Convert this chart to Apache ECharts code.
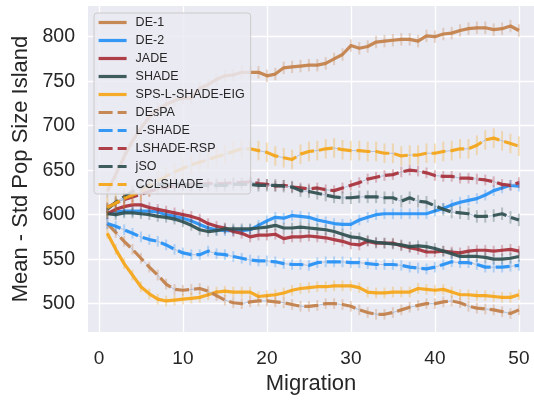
<!DOCTYPE html>
<html>
<head>
<meta charset="utf-8">
<script src="https://cdn.jsdelivr.net/npm/echarts@6/dist/echarts.min.js"></script>
<style>
  html, body { margin: 0; padding: 0; background: #ffffff; }
  #chart { width: 534px; height: 400px; }
</style>
</head>
<body>
<div id="chart"></div>
<script>
// Migration steps on the x axis
const migration = [1,2,3,4,5,6,7,8,9,10,11,12,13,14,15,16,17,18,19,20,21,22,23,24,25,
  26,27,28,29,30,31,32,33,34,35,36,37,38,39,40,41,42,43,44,45,46,47,48,49,50];

// Mean - std of the island population size for each algorithm
const de1 = [626,645,665,683,697,710,718,724,728,731,731,742,746,752,756,757,760,760,760,756,
  758,765,766,767,768,768,770,775,780,790,787,789,794,795,796,797,797,795,801,800,
  803,804,807,809,810,810,808,809,812,807];
const de2 = [601,603,604,604,604,604,603,600,598,596,593,589,585,583,582,582,582,583,588,593,
  597,596,599,598,597,594,592,590,589,589,594,597,600,601,601,601,601,601,601,604,
  607,611,614,616,618,622,627,630,633,632];
const jade = [601,606,609,611,611,608,606,604,602,600,598,595,590,587,585,581,579,575,577,577,
  578,573,575,575,576,575,574,572,570,567,566,570,568,568,568,565,563,561,558,558,
  559,558,557,559,560,560,559,560,561,559];
const shade = [601,600,602,602,601,600,598,597,595,592,588,583,581,582,584,584,584,584,585,586,
  588,585,585,586,585,584,583,581,578,575,574,571,569,568,567,566,564,565,564,562,
  559,556,553,553,553,552,550,550,551,553];
const spsLShadeEig = [579,561,545,532,519,511,505,503,504,505,506,507,510,513,514,513,513,513,508,509,
  510,512,515,517,518,519,519,520,520,520,518,513,512,512,513,513,513,517,516,515,
  516,513,510,510,509,509,508,507,507,510];
const despa = [590,580,570,561,551,541,532,522,516,515,516,517,514,509,504,501,500,502,503,503,
  502,501,499,497,497,498,500,500,499,497,493,490,488,488,490,493,496,498,500,500,
  502,503,501,497,495,494,493,491,489,493];
const lShade = [590,587,583,579,575,572,570,566,561,557,555,555,559,556,555,553,551,549,548,548,
  547,545,544,544,543,546,547,547,547,546,546,545,544,544,544,543,541,540,539,541,
  544,547,546,546,544,541,541,541,542,543];
const lshadeRsp = [608,613,617,620,623,626,629,631,632,633,634,634,635,635,635,636,636,637,635,634,
  632,633,631,630,629,630,628,627,630,633,636,640,642,644,645,648,650,649,647,644,
  643,643,641,641,640,639,637,634,633,636];
const jso = [606,614,620,626,631,633,634,634,634,634,633,633,633,633,633,634,634,634,633,633,
  633,632,631,627,626,624,622,620,619,619,620,620,620,619,619,615,619,615,614,610,
  606,603,602,601,598,598,599,601,597,594];
const cclshade = [608,613,618,622,626,632,638,643,648,652,656,659,662,665,668,671,674,674,672,670,
  666,664,662,668,671,672,674,675,673,672,672,671,671,669,669,666,667,667,669,669,
  671,672,674,674,678,684,686,683,680,677];

// Half-length of the spread bars drawn at every step
const spread = [7, 6, 6, 6, 6, 6, 6, 6, 7, 11];

// Legend labels and axis ticks
const names = ['DE-1','DE-2','JADE','SHADE','SPS-L-SHADE-EIG','DEsPA','L-SHADE','LSHADE-RSP','jSO','CCLSHADE'];
const xTicks = [0, 10, 20, 30, 40, 50];
const yTicks = [500, 550, 600, 650, 700, 750, 800];

const values = [de1, de2, jade, shade, spsLShadeEig, despa, lShade, lshadeRsp, jso, cclshade];
const colors = ['#c27f48', '#2590f5', '#a8303a', '#2f4f4f', '#f5a516',
                '#c27f48', '#2590f5', '#a8303a', '#2f4f4f', '#f5a516'];
const dashed = [false, false, false, false, false, true, true, true, true, true];

const font = '"Liberation Sans", Arial, Helvetica, sans-serif';
const ink = '#262626';

const series = [];
values.forEach((vals, i) => {
  const pts = migration.map((m, k) => [m, vals[k]]);
  // light spread bars
  series.push({
    name: names[i] + ' spread',
    type: 'custom',
    silent: true,
    z: 2 + i * 3,
    data: migration.map((m, k) => [m, vals[k], spread[i]]),
    renderItem: (params, api) => {
      const x = api.value(0), y = api.value(1), e = api.value(2);
      const a = api.coord([x, y - e]);
      const b = api.coord([x, y + e]);
      return {
        type: 'line',
        shape: { x1: a[0], y1: a[1], x2: b[0], y2: b[1] },
        style: { stroke: colors[i], lineWidth: 2, opacity: 0.3 }
      };
    }
  });
  // thin guide line visible between the dashes
  if (dashed[i]) {
    series.push({
      name: names[i] + ' guide',
      type: 'line',
      silent: true,
      z: 3 + i * 3,
      data: pts,
      showSymbol: false,
      symbol: 'none',
      lineStyle: { color: 'rgba(160,180,210,0.75)', width: 1 }
    });
  }
  series.push({
    name: names[i],
    type: 'line',
    z: 4 + i * 3,
    data: pts,
    symbol: 'none',
    showSymbol: false,
    color: colors[i],
    lineStyle: {
      color: colors[i],
      width: 3.2,
      opacity: 0.92,
      type: dashed[i] ? [14, 5] : 'solid',
      join: 'round',
      cap: 'butt'
    }
  });
});

const chart = echarts.init(document.getElementById('chart'), null, { renderer: 'canvas' });
chart.setOption({
  animation: false,
  backgroundColor: '#ffffff',
  grid: {
    left: 88, right: 0, top: 6, bottom: 58,
    show: true, backgroundColor: '#eaeaf2', borderWidth: 0
  },
  xAxis: {
    type: 'value',
    min: -1.3, max: 51.8,
    name: 'Migration',
    nameLocation: 'middle',
    nameGap: 36,
    nameTextStyle: { color: ink, fontSize: 22, fontFamily: font },
    axisLine: { show: false },
    axisTick: { show: false, customValues: xTicks },
    axisLabel: { customValues: xTicks, color: ink, fontSize: 19, fontFamily: font, margin: 17 },
    splitLine: { show: true, lineStyle: { color: '#ffffff', width: 1.3 } }
  },
  yAxis: {
    type: 'value',
    min: 468, max: 834.5,
    name: 'Mean - Std Pop Size Island',
    nameLocation: 'middle',
    nameGap: 54,
    nameTextStyle: { color: ink, fontSize: 22, fontFamily: font },
    axisLine: { show: false },
    axisTick: { show: false, customValues: yTicks },
    axisLabel: { customValues: yTicks, color: ink, fontSize: 19.5, fontFamily: font, margin: 13 },
    splitLine: { show: true, lineStyle: { color: '#ffffff', width: 1.3 } }
  },
  legend: {
    data: names,
    orient: 'vertical',
    left: 94, top: 13,
    padding: [3, 6, 3, 3],
    itemWidth: 28, itemHeight: 12, itemGap: 5,
    backgroundColor: 'rgba(234,234,242,0.85)',
    borderColor: 'rgba(200,200,200,0.9)',
    borderWidth: 1,
    borderRadius: 3,
    itemStyle: { opacity: 0 },
    lineStyle: { width: 3.2 },
    textStyle: { color: ink, fontSize: 12.5, fontFamily: font, padding: [0, 0, 0, 4] },
    z: 50
  },
  series: series
});
</script>
</body>
</html>
